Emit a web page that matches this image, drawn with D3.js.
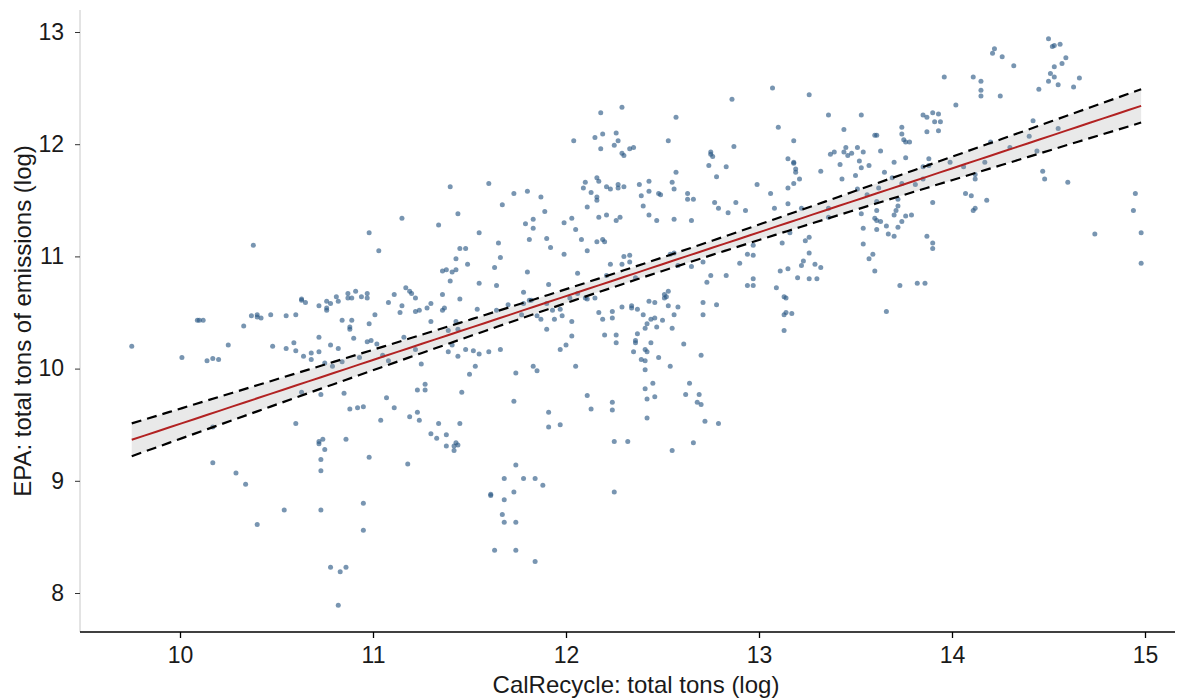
<!DOCTYPE html>
<html>
<head>
<meta charset="utf-8">
<script src="https://cdn.jsdelivr.net/npm/d3@7"></script>
<style>
  html, body { margin: 0; padding: 0; background: #ffffff; }
  svg { display: block; font-family: "Liberation Sans", Arial, Helvetica, sans-serif; }
</style>
</head>
<body>
<svg id="chart" width="1190" height="700"></svg>
<script>
// ---- Data (log scale values) ----
const calrecycleLog = [
  12.18,12.29,12.04,12.15,12.19,12.26,12.27,12.25,12.18,12.29,12.30,12.33,12.35,
  11.40,11.60,11.73,11.80,11.87,11.67,11.89,11.83,11.79,11.99,12.03,11.15,11.44,11.34,
  12.16,12.17,12.10,12.09,12.13,12.16,12.16,12.11,12.21,12.23,12.27,12.27,12.30,12.17,12.21,12.28,12.26,
  13.07,13.26,12.86,12.57,12.53,13.36,13.53,13.10,13.44,13.60,13.61,13.18,
  12.87,12.75,12.75,12.76,12.74,12.83,12.78,12.57,12.55,12.56,12.38,12.43,12.43,12.39,
  12.40,12.43,12.47,12.48,12.49,12.63,12.63,12.66,12.56,12.65,12.77,12.79,12.88,12.84,12.93,
  12.99,13.06,13.08,13.15,13.15,13.15,13.18,13.18,13.19,13.19,13.21,13.18,13.22,
  13.32,13.42,13.43,13.37,13.39,13.44,13.45,13.46,13.48,13.51,13.54,13.52,13.53,13.57,
  13.63,13.65,13.50,13.69,13.70,13.51,13.62,13.56,13.61,13.61,13.36,13.36,13.53,13.60,13.61,13.63,13.66,13.70,
  14.50,14.52,14.53,14.56,14.22,14.21,14.26,14.59,14.57,14.53,14.32,14.51,14.53,14.50,14.55,14.66,14.63,14.45,
  13.96,14.11,14.15,14.15,14.15,14.25,14.02,13.85,13.87,13.90,13.93,13.91,13.94,13.87,13.93,13.74,13.74,13.75,13.76,13.78,
  13.76,13.88,13.88,13.85,13.99,14.06,14.17,14.20,14.30,14.40,14.42,14.55,14.44,14.47,14.48,14.60,13.85,13.81,13.74,
  14.12,14.12,14.07,14.10,14.18,14.12,14.11,13.90,13.72,13.72,13.71,13.76,13.79,13.74,14.95,14.94,
  13.72,13.70,13.87,13.90,13.90,13.73,13.82,13.86,14.74,14.98,14.98,13.54,13.61,13.67,
  13.54,13.59,13.57,13.60,13.66,13.16,13.12,13.26,13.24,12.97,12.94,12.97,12.90,
  13.26,13.23,13.22,13.29,13.32,13.15,13.11,13.20,13.26,13.30,12.97,12.94,12.97,13.09,13.13,13.14,13.13,13.14,13.17,13.13,
  12.56,12.54,12.65,12.71,12.58,12.75,12.73,12.83,12.36,12.51,12.52,12.53,12.51,12.43,12.46,12.53,12.58,12.71,12.78,12.71,12.56,
  12.37,12.40,12.44,12.46,12.50,12.42,12.41,12.47,12.55,12.37,12.36,12.36,12.44,12.61,12.41,12.42,12.35,12.39,12.41,12.48,12.70,
  12.41,12.54,12.45,12.64,12.41,12.42,12.46,12.62,12.69,12.68,12.70,12.42,12.72,12.79,12.66,12.55,
  11.55,11.03,11.45,11.48,11.43,11.49,11.36,11.38,11.41,11.43,11.40,11.55,11.65,11.66,11.63,11.64,11.83,11.81,11.90,11.92,11.99,11.80,
  12.05,12.08,12.11,12.16,12.19,12.20,12.30,12.33,12.33,12.29,12.23,12.06,12.21,11.91,
  11.17,11.19,11.20,11.22,11.11,11.08,11.15,11.14,11.22,11.24,11.28,11.30,11.36,11.45,11.36,11.37,11.30,11.43,11.54,
  11.78,11.64,11.70,11.78,11.81,11.82,11.90,11.93,11.97,12.02,12.06,12.10,12.11,12.15,
  11.77,11.85,11.87,11.94,11.98,12.03,12.17,12.19,12.24,12.24,12.29,12.34,12.34,
  11.90,12.03,12.20,12.26,12.26,12.00,11.97,12.05,
  11.02,11.16,11.05,11.08,11.22,11.39,11.41,11.44,11.39,11.48,11.52,11.55,11.60,11.66,11.44,11.25,11.53,11.50,11.74,11.83,11.85,
  11.27,11.23,11.27,11.07,11.46,11.73,11.11,11.19,11.23,11.24,11.04,11.34,11.45,11.91,11.97,12.11,12.13,12.24,12.24,11.01,
  11.30,11.33,11.38,11.43,11.38,11.42,11.44,11.42,11.18,11.91,12.25,12.32,12.25,
  11.74,11.68,11.78,11.84,11.88,11.61,11.61,11.73,11.68,11.67,11.68,11.74,11.63,11.74,11.84,
  10.17,10.17,10.29,10.34,10.54,10.40,10.72,10.72,10.74,10.75,10.73,10.73,10.73,10.86,10.98,10.95,10.95,10.78,10.83,10.86,10.82,
  10.38,10.98,9.75,10.01,10.09,10.10,10.12,10.25,10.14,10.17,10.20,10.33,10.37,10.40,10.40,10.42,10.47,10.55,10.60,
  10.63,10.63,10.65,10.72,10.76,10.78,10.76,10.76,10.81,10.82,10.87,10.87,10.89,10.91,10.94,10.97,10.97,10.84,10.89,10.88,10.88,10.98,10.90,
  10.72,10.48,10.55,10.59,10.60,10.64,10.68,10.72,10.68,10.75,10.78,10.82,10.84,10.93,10.97,10.99,10.79,10.63,10.73,10.85,10.88,10.92,10.95,10.60
];
const epaLog = [
  12.28,12.33,12.03,12.06,12.09,12.10,12.03,11.99,11.96,11.92,11.90,11.96,11.97,
  11.62,11.65,11.56,11.58,11.53,11.46,11.40,11.33,11.29,11.30,11.34,11.34,11.38,11.28,
  11.70,11.67,11.66,11.61,11.57,11.53,11.50,11.44,11.62,11.60,11.64,11.61,11.62,11.35,11.37,11.35,11.32,
  12.50,12.44,12.40,12.24,12.03,12.26,12.26,12.15,12.13,12.08,12.08,12.03,
  11.98,11.93,11.91,11.89,11.81,11.80,11.71,11.75,11.66,11.60,11.64,11.67,11.58,11.54,
  11.45,11.37,11.32,11.56,11.55,11.56,11.51,11.51,11.33,11.32,11.48,11.43,11.48,11.39,11.41,
  11.64,11.56,11.43,11.61,11.47,11.87,11.84,11.83,11.78,11.75,11.69,11.65,11.43,
  11.76,11.82,11.69,11.91,11.93,11.93,11.97,11.90,11.92,11.97,11.93,11.85,11.79,11.81,
  11.94,11.75,11.72,11.70,11.84,11.60,11.61,11.55,11.49,11.41,11.43,11.35,11.38,11.34,11.32,11.31,11.27,11.37,
  12.94,12.87,12.88,12.89,12.85,12.81,12.78,12.77,12.72,12.69,12.70,12.63,12.60,12.56,12.53,12.59,12.51,12.49,
  12.60,12.60,12.56,12.48,12.43,12.43,12.35,12.26,12.24,12.28,12.27,12.20,12.20,12.11,12.12,12.15,12.09,12.04,12.02,12.02,
  11.88,11.87,11.81,11.80,11.84,11.80,11.84,12.02,11.97,12.07,12.21,12.14,11.94,11.76,11.69,11.66,11.69,11.64,11.65,
  11.73,11.69,11.56,11.54,11.50,11.43,11.41,11.48,11.51,11.45,11.41,11.36,11.37,11.31,11.56,11.41,
  11.26,11.18,11.18,11.12,11.07,10.74,10.76,10.76,11.20,11.21,10.94,11.25,11.24,11.20,
  11.11,11.02,10.98,10.87,10.51,11.21,11.12,11.17,11.14,11.10,11.02,11.01,10.94,
  11.03,10.96,10.92,10.93,10.90,10.89,10.87,10.81,10.80,10.80,10.80,10.74,10.74,10.72,10.64,10.63,10.48,10.50,10.49,10.34,
  11.03,11.02,10.91,10.95,10.92,10.83,10.77,10.83,10.81,10.66,10.64,10.69,10.63,10.60,10.59,10.56,10.55,10.59,10.57,10.48,10.48,
  10.53,10.48,10.44,10.45,10.43,10.40,10.36,10.37,10.36,10.31,10.25,10.23,10.23,10.22,10.17,10.15,10.15,10.08,10.07,10.10,10.12,
  9.99,10.02,9.87,9.87,9.82,9.73,9.75,9.77,9.77,9.70,9.68,9.56,9.53,9.51,9.34,9.27,
  11.21,11.05,11.07,11.07,10.98,10.93,10.87,10.88,10.86,10.88,10.78,10.76,11.12,10.99,10.90,10.74,11.25,11.15,11.16,11.08,11.02,10.86,
  11.24,11.15,11.05,11.13,11.15,11.13,11.00,11.01,10.95,10.93,10.93,10.85,10.83,10.75,
  10.72,10.69,10.67,10.63,10.66,10.59,10.56,10.50,10.51,10.52,10.54,10.58,10.66,10.62,10.52,10.54,10.42,10.42,10.53,
  10.68,10.52,10.57,10.58,10.61,10.61,10.58,10.52,10.53,10.63,10.67,10.63,10.62,10.63,
  10.48,10.47,10.44,10.44,10.47,10.42,10.50,10.44,10.51,10.45,10.55,10.54,10.56,
  10.35,10.29,10.30,10.30,10.23,10.21,10.17,10.02,
  10.22,10.28,10.12,10.07,10.17,10.15,10.21,10.35,10.34,10.17,10.16,10.13,10.15,10.17,10.11,10.04,10.02,9.95,9.96,10.02,9.98,
  9.86,9.81,9.81,9.74,9.79,9.71,9.65,9.57,9.61,9.54,9.54,9.51,9.51,9.61,9.50,9.76,9.64,9.70,9.63,10.48,
  9.42,9.38,9.41,9.34,9.31,9.31,9.32,9.27,9.15,9.48,9.35,9.35,8.90,
  9.14,9.02,9.02,9.02,8.96,8.87,8.88,8.90,8.83,8.70,8.63,8.63,8.38,8.38,8.28,
  9.48,9.16,9.07,8.97,8.74,8.61,9.33,9.35,9.37,9.28,9.19,9.09,8.74,9.37,9.21,8.80,8.56,8.23,8.19,8.23,7.89,
  11.10,11.21,10.20,10.10,10.43,10.43,10.43,10.21,10.07,10.09,10.08,10.38,10.47,10.48,10.46,10.45,10.48,10.47,10.48,
  10.62,10.61,10.59,10.56,10.60,10.58,10.54,10.52,10.64,10.60,10.67,10.63,10.63,10.69,10.64,10.67,10.63,10.43,10.43,10.37,10.35,10.40,10.27,
  10.28,10.20,10.18,10.23,10.16,10.11,10.14,10.15,10.08,10.05,10.21,10.18,10.06,10.10,10.24,10.25,10.02,9.79,9.77,9.78,9.64,9.65,9.66,9.51
];
const xTicks = [10, 11, 12, 13, 14, 15];
const yTicks = [8, 9, 10, 11, 12, 13];
const xTitle = "CalRecycle: total tons (log)";
const yTitle = "EPA: total tons of emissions (log)";

// ---- Layout ----
const svg = d3.select("#chart");
const panel = { left: 80, right: 1175, top: 10, bottom: 632 };

const x = d3.scaleLinear().domain([10, 15]).range([180, 1145]);
const y = d3.scaleLinear().domain([8, 13]).range([593, 32]);

const n = Math.min(calrecycleLog.length, epaLog.length);
const pts = d3.range(n).map(i => ({ x: calrecycleLog[i], y: epaLog[i] }));

// ---- Linear fit with 95% confidence band ----
const xbar = d3.mean(pts, d => d.x), ybar = d3.mean(pts, d => d.y);
const sxx = d3.sum(pts, d => (d.x - xbar) ** 2);
const sxy = d3.sum(pts, d => (d.x - xbar) * (d.y - ybar));
const slope = sxy / sxx;
const intercept = ybar - slope * xbar;
const rss = d3.sum(pts, d => (d.y - (intercept + slope * d.x)) ** 2);
const sigma = Math.sqrt(rss / (n - 2));
const tq = 1.9643;
const [xmin, xmax] = d3.extent(pts, d => d.x);
const fit = d3.range(81).map(i => {
  const xv = xmin + (xmax - xmin) * i / 80;
  const yv = intercept + slope * xv;
  const se = sigma * Math.sqrt(1 / n + (xv - xbar) ** 2 / sxx);
  return { x: xv, y: yv, lo: yv - tq * se, hi: yv + tq * se };
});

// ---- Axes ----
svg.append("line")
  .attr("x1", panel.left).attr("x2", panel.left)
  .attr("y1", panel.top).attr("y2", panel.bottom)
  .attr("stroke", "#c8c8c8").attr("stroke-width", 1);

const yAxis = svg.append("g").attr("transform", `translate(${panel.left},0)`)
  .call(d3.axisLeft(y).tickValues(yTicks).tickSize(5).tickFormat(d3.format("d")));
yAxis.select(".domain").remove();
yAxis.selectAll(".tick line").attr("stroke", "#333").attr("stroke-width", 1);
yAxis.selectAll(".tick text").attr("font-size", 23).attr("fill", "#1a1a1a")
  .attr("x", -16).attr("font-family", "Liberation Sans, Arial, sans-serif");

const xAxis = svg.append("g").attr("transform", `translate(0,${panel.bottom})`)
  .call(d3.axisBottom(x).tickValues(xTicks).tickSize(6).tickFormat(d3.format("d")));
xAxis.select(".domain").remove();
xAxis.append("line").attr("x1", panel.left).attr("x2", panel.right)
  .attr("stroke", "#000").attr("stroke-width", 1.6);
xAxis.selectAll(".tick line").attr("stroke", "#000").attr("stroke-width", 1.3);
xAxis.selectAll(".tick text").attr("font-size", 23).attr("fill", "#1a1a1a")
  .attr("y", 15).attr("font-family", "Liberation Sans, Arial, sans-serif");

// ---- Points ----
svg.append("g").selectAll("circle").data(pts).join("circle")
  .attr("cx", d => x(d.x)).attr("cy", d => y(d.y)).attr("r", 2.5)
  .attr("fill", "#2c5985").attr("fill-opacity", 0.64);

// ---- Confidence band & fit line ----
svg.append("path").datum(fit)
  .attr("d", d3.area().x(d => x(d.x)).y0(d => y(d.lo)).y1(d => y(d.hi)))
  .attr("fill", "#999999").attr("fill-opacity", 0.22);

svg.append("path").attr("d", d3.line().x(d => x(d.x)).y(d => y(d.hi))(fit))
  .attr("fill", "none").attr("stroke", "#000").attr("stroke-width", 2.2).attr("stroke-dasharray", "10,6");
svg.append("path").attr("d", d3.line().x(d => x(d.x)).y(d => y(d.lo))(fit))
  .attr("fill", "none").attr("stroke", "#000").attr("stroke-width", 2.2).attr("stroke-dasharray", "10,6");
svg.append("path").attr("d", d3.line().x(d => x(d.x)).y(d => y(d.y))(fit))
  .attr("fill", "none").attr("stroke", "#b22222").attr("stroke-width", 2);

// ---- Titles ----
svg.append("text").attr("x", 636).attr("y", 693)
  .attr("text-anchor", "middle").attr("font-size", 24).attr("fill", "#1a1a1a").text(xTitle);
svg.append("text").attr("transform", `translate(31,${(panel.top + panel.bottom) / 2}) rotate(-90)`)
  .attr("text-anchor", "middle").attr("font-size", 24).attr("fill", "#1a1a1a").text(yTitle);
</script>
</body>
</html>
